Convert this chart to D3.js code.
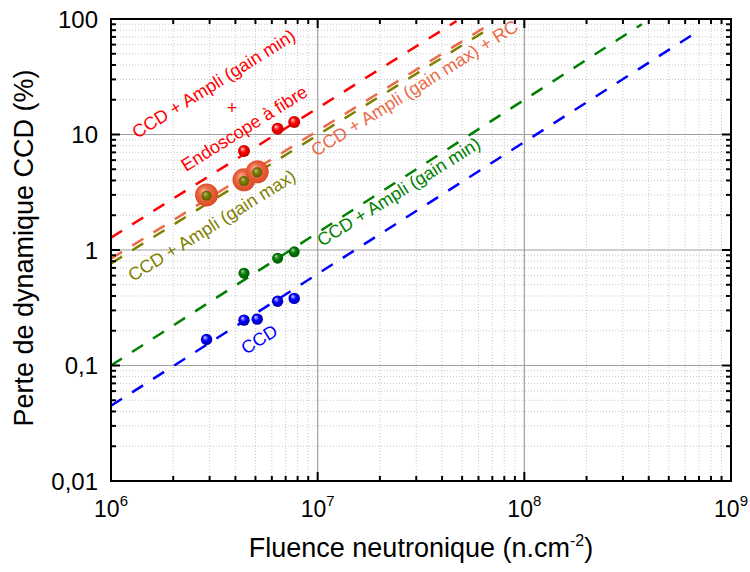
<!DOCTYPE html>
<html><head><meta charset="utf-8">
<script src="https://cdn.jsdelivr.net/npm/d3@7"></script>
<style>body{margin:0;background:#fff}svg{display:block}text{font-family:Arial,"Liberation Sans",sans-serif}</style>
</head><body>
<svg id="c" width="750" height="572"></svg>
<script>
// ---- data ----
const xTickExps = [6, 7, 8, 9];
const yTickValues = [0.01, 0.1, 1, 10, 100];
const yTickLabels = ["0,01", "0,1", "1", "10", "100"];

const ccdX = [2.9e6, 4.4e6, 5.1e6, 6.4e6, 7.7e6];
const ccdY = [0.168, 0.247, 0.252, 0.36, 0.381];
const gainMinX = [4.4e6, 6.4e6, 7.7e6];
const gainMinY = [0.63, 0.85, 0.965];
const gainMaxX = [2.9e6, 4.4e6, 5.1e6];
const gainMaxY = [2.95, 3.95, 4.7];
const gainMaxRCX = [2.9e6, 4.4e6, 5.1e6];
const gainMaxRCY = [3.0, 4.05, 4.75];
const endoX = [4.4e6, 6.4e6, 7.7e6];
const endoY = [7.2, 11.2, 12.8];

// fitted lines (endpoints)
const fitCCD = [[1e6, 0.0448], [6.9e8, 78]];
const fitGainMin = [[1e6, 0.1], [3.7e8, 90]];
const fitGainMax = [[1e6, 0.765], [7e7, 86]];
const fitGainMaxRC = [[1e6, 0.84], [7e7, 93]];
const fitEndo = [[1e6, 1.28], [4.7e7, 96]];

const svg = d3.select("#c");
const L = 111, R = 731, T = 19, B = 481;
const x = d3.scaleLog().domain([1e6, 1e9]).range([L, R]);
const y = d3.scaleLog().domain([0.01, 100]).range([B, T]);

// gradients
const defs = svg.append("defs");
function ball(id, hi, mid, edge) {
  const g = defs.append("radialGradient").attr("id", id)
    .attr("cx", "50%").attr("cy", "50%").attr("r", "55%").attr("fx", "35%").attr("fy", "30%");
  g.append("stop").attr("offset", "0%").attr("stop-color", hi);
  g.append("stop").attr("offset", "45%").attr("stop-color", mid);
  g.append("stop").attr("offset", "100%").attr("stop-color", edge);
}
ball("gRed", "#ffd0d0", "#ff0000", "#b00000");
ball("gBlue", "#d8d8ff", "#0000ff", "#0000a0");
ball("gGreen", "#b8b8b8", "#008000", "#005000");
ball("gOlive", "#b8b8b8", "#808000", "#555500");
ball("gOrange", "#f7a58a", "#ec6a48", "#d9441f");

// grid
const minorX = x.ticks().filter(v => Math.abs(Math.log10(v) % 1) > 1e-6 && Math.abs(Math.log10(v) % 1 - 1) > 1e-6);
const minorY = y.ticks().filter(v => { const f = Math.log10(v) - Math.floor(Math.log10(v) + 1e-9); return f > 1e-6; });
const gGrid = svg.append("g");
gGrid.selectAll(".mx").data(minorX).join("line")
  .attr("x1", d => x(d)).attr("x2", d => x(d)).attr("y1", T).attr("y2", B)
  .attr("stroke", "#c8c8c8").attr("stroke-width", 1).attr("stroke-dasharray", "1,2");
gGrid.selectAll(".my").data(minorY).join("line")
  .attr("y1", d => y(d)).attr("y2", d => y(d)).attr("x1", L).attr("x2", R)
  .attr("stroke", "#c8c8c8").attr("stroke-width", 1).attr("stroke-dasharray", "1,2");
gGrid.selectAll(".Mx").data([1e7, 1e8]).join("line")
  .attr("x1", d => x(d)).attr("x2", d => x(d)).attr("y1", T).attr("y2", B)
  .attr("stroke", "#a0a0a0").attr("stroke-width", 1.2);
gGrid.selectAll(".My").data([0.1, 1, 10]).join("line")
  .attr("y1", d => y(d)).attr("y2", d => y(d)).attr("x1", L).attr("x2", R)
  .attr("stroke", "#a0a0a0").attr("stroke-width", 1.2);

// fit lines
const clip = defs.append("clipPath").attr("id", "clp");
clip.append("rect").attr("x", L).attr("y", T).attr("width", R - L).attr("height", B - T);
const gLines = svg.append("g").attr("clip-path", "url(#clp)");
const line = d3.line().x(d => x(d[0])).y(d => y(d[1]));
[[fitCCD, "#0000ff"], [fitGainMin, "#008000"], [fitGainMax, "#808000"], [fitGainMaxRC, "#ec6a48"], [fitEndo, "#ff0000"]]
  .forEach(([d, c]) => gLines.append("path").attr("d", line(d)).attr("fill", "none")
    .attr("stroke", c).attr("stroke-width", 2.5).attr("stroke-dasharray", "13,12"));

// markers
function pts(xs, ys, r, fill) {
  svg.append("g").selectAll("circle").data(xs.map((v, i) => [v, ys[i]])).join("circle")
    .attr("cx", d => x(d[0])).attr("cy", d => y(d[1])).attr("r", r).attr("fill", fill);
}
pts(gainMaxRCX, gainMaxRCY, 11.5, "url(#gOrange)");
pts(gainMaxX, gainMaxY, 5, "url(#gOlive)");
pts(endoX, endoY, 6, "url(#gRed)");
pts(gainMinX, gainMinY, 5.5, "url(#gGreen)");
pts(ccdX, ccdY, 5.7, "url(#gBlue)");

// frame & ticks
const gAx = svg.append("g");
gAx.append("rect").attr("x", L).attr("y", T).attr("width", R - L).attr("height", B - T)
  .attr("fill", "none").attr("stroke", "#000").attr("stroke-width", 2);
const majX = xTickExps.map(e => Math.pow(10, e));
function tx(vals, len) {
  gAx.selectAll(null).data(vals).join("line").attr("x1", d => x(d)).attr("x2", d => x(d))
    .attr("y1", B).attr("y2", B - len).attr("stroke", "#000").attr("stroke-width", 2);
  gAx.selectAll(null).data(vals).join("line").attr("x1", d => x(d)).attr("x2", d => x(d))
    .attr("y1", T).attr("y2", T + len).attr("stroke", "#000").attr("stroke-width", 2);
}
function ty(vals, len) {
  gAx.selectAll(null).data(vals).join("line").attr("y1", d => y(d)).attr("y2", d => y(d))
    .attr("x1", L).attr("x2", L + len).attr("stroke", "#000").attr("stroke-width", 2);
  gAx.selectAll(null).data(vals).join("line").attr("y1", d => y(d)).attr("y2", d => y(d))
    .attr("x1", R).attr("x2", R - len).attr("stroke", "#000").attr("stroke-width", 2);
}
tx(majX, 9); tx(minorX, 5); ty(yTickValues, 9); ty(minorY, 5);

// tick labels
gAx.selectAll(null).data(yTickValues).join("text")
  .attr("x", 98).attr("y", d => y(d)).attr("dy", "0.36em").attr("text-anchor", "end")
  .attr("font-size", 24).text((d, i) => yTickLabels[i]);
const xl = gAx.selectAll(null).data(xTickExps).join("text")
  .attr("x", d => x(Math.pow(10, d))).attr("y", 517).attr("text-anchor", "middle").attr("font-size", 23);
xl.append("tspan").text("10");
xl.append("tspan").attr("dy", -11).attr("font-size", 15).text(d => d);

// axis titles
const xt = svg.append("text").attr("x", 421).attr("y", 557).attr("text-anchor", "middle").attr("font-size", 27);
xt.append("tspan").text("Fluence neutronique (n.cm");
xt.append("tspan").attr("dy", -11).attr("font-size", 16).text("-2");
xt.append("tspan").attr("dy", 11).text(")");
svg.append("text").attr("transform", "translate(33,248) rotate(-90)").attr("text-anchor", "middle")
  .attr("font-size", 27).text("Perte de dynamique CCD  (%)");

// curve labels
function lab(t, px, py, c) {
  svg.append("text").attr("transform", `translate(${px},${py}) rotate(-32)`)
    .attr("font-size", 18).attr("fill", c).text(t);
}
lab("CCD + Ampli (gain min)", 137, 139, "#ff0000");
svg.append("text").attr("x", 232).attr("y", 114).attr("text-anchor", "middle").attr("font-size", 18).attr("fill", "#ff0000").text("+");
lab("Endoscope à fibre", 186, 172, "#ff0000");
lab("CCD + Ampli (gain max) + RC", 316, 157, "#ec6a48");
lab("CCD + Ampli (gain max)", 133, 282, "#808000");
lab("CCD + Ampli (gain min)", 322, 247, "#008000");
lab("CCD", 246, 355, "#0000ff");
</script>
</body></html>
